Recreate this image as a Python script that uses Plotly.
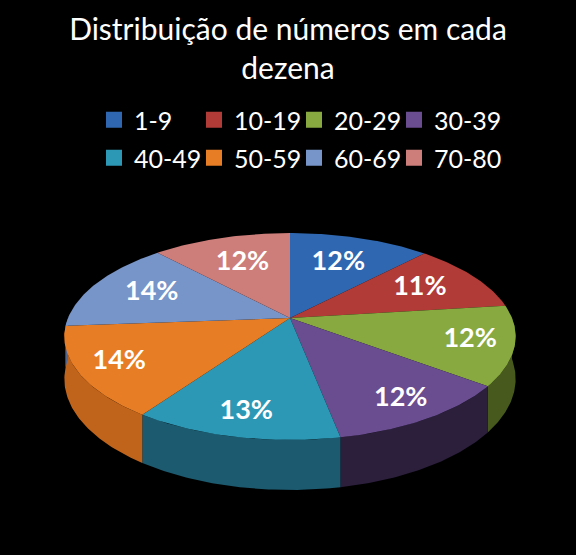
import numpy as np
import plotly.graph_objects as go

# share of drawn numbers per decade (percent)
categories = ['1-9', '10-19', '20-29', '30-39', '40-49', '50-59', '60-69', '70-80']
shares = [12.0, 11.0, 12.4, 11.6, 12.6, 14.2, 14.4, 11.8]

top_colors = ['#2F68B0', '#B03B37', '#88A940', '#6A4D90', '#2C98B6', '#E77D24', '#7795C9', '#CD7D7A']
side_colors = ['#1F4676', '#762826', '#47591D', '#2B1F3C', '#1B5A6F', '#C0631B', '#4F6690', '#8A5452']

# projection of the "3d" pie (units: 1 = horizontal radius)
TILT = 0.451     # squash of the top face
PERSP = 0.179    # perspective strength, back is smaller than front
DEPTH = 0.185    # thickness of the pie
PX = 222         # pixels per unit, used for axis ranges
CENTER = (290, 318)
W, H = 576, 555


def project(theta, r=1.0, h=0.0):
    """project a point of the pie disk (angle in radians) to the 2d plane"""
    x = r * np.cos(theta)
    z = r * np.sin(theta)
    s = 1.0 / (1.0 + PERSP * z)
    return x * s, (TILT * z + h) * s


fig = go.Figure()

# slice angles, start at 12 o'clock and go clockwise
ends = 90 - 3.6 * np.cumsum(shares)
starts = np.concatenate([[90], ends[:-1]])

# outer walls, only the front half is visible
for a0, a1, col in zip(starts, ends, side_colors):
    hi, lo = min(a0, 0), max(a1, -180)
    if hi <= lo:
        continue
    t = np.radians(np.linspace(hi, lo, 60))
    xt, yt = project(t)
    xb, yb = project(t[::-1], h=-DEPTH)
    fig.add_trace(go.Scatter(
        x=np.concatenate([xt, xb]), y=np.concatenate([yt, yb]),
        fill='toself', fillcolor=col, mode='lines', line=dict(width=0),
        hoverinfo='skip', showlegend=False,
    ))

# top faces
for a0, a1, col in zip(starts, ends, top_colors):
    t = np.radians(np.linspace(a0, a1, 60))
    xs, ys = project(t)
    fig.add_trace(go.Scatter(
        x=np.concatenate([[0], xs, [0]]), y=np.concatenate([[0], ys, [0]]),
        fill='toself', fillcolor=col, mode='lines', line=dict(width=0),
        hoverinfo='skip', showlegend=False,
    ))

# percentage labels, closer to the middle at the back, further out at the front
mids = np.radians((starts + ends) / 2)
sin_m, cos_m = np.sin(mids), np.cos(mids)
lab_r = 0.73 - 0.08 * sin_m + 0.06 * np.abs(cos_m) * (sin_m < 0)
lx, ly = project(mids, r=lab_r)
fig.add_trace(go.Scatter(
    x=lx, y=ly, mode='text',
    text=[f'{round(v)}%' for v in shares],
    textfont=dict(family='Lato', size=27, color='white', weight='bold'),
    hoverinfo='skip', showlegend=False,
))

# legend entries (two rows, four per row)
for i, (name, col) in enumerate(zip(categories, top_colors)):
    fig.add_trace(go.Scatter(
        x=[None], y=[None], mode='markers', name=name,
        marker=dict(symbol='square', size=16, color=col),
        legend='legend' if i < 4 else 'legend2',
    ))
# empty entries so the last column is not clipped
for leg in ['legend', 'legend2']:
    fig.add_trace(go.Scatter(
        x=[None], y=[None], mode='markers', name=' ',
        marker=dict(size=1, color='rgba(0,0,0,0)'), legend=leg,
    ))

legend_style = dict(
    orientation='h', x=94 / W, xanchor='left', yanchor='middle',
    font=dict(family='Lato', size=25, color='white'),
    bgcolor='rgba(0,0,0,0)', entrywidth=55, itemclick=False,
)

fig.update_layout(
    width=W, height=H,
    paper_bgcolor='black', plot_bgcolor='black',
    margin=dict(l=0, r=0, t=0, b=0, autoexpand=False),
    title=dict(
        text='Distribuição de números em cada<br>dezena',
        x=0.5, xanchor='center', y=1 - 40 / H, yanchor='top',
        font=dict(family='Lato', size=30, color='white'),
    ),
    legend=dict(y=1 - 120 / H, **legend_style),
    legend2=dict(y=1 - 158 / H, **legend_style),
    xaxis=dict(range=[-CENTER[0] / PX, (W - CENTER[0]) / PX], visible=False, fixedrange=True),
    yaxis=dict(range=[-(H - CENTER[1]) / PX, CENTER[1] / PX], visible=False, fixedrange=True),
)

fig.write_html(
    'out.html',
    config={'displayModeBar': False},
    post_script="document.body.style.margin='0';document.body.style.background='black';",
)
